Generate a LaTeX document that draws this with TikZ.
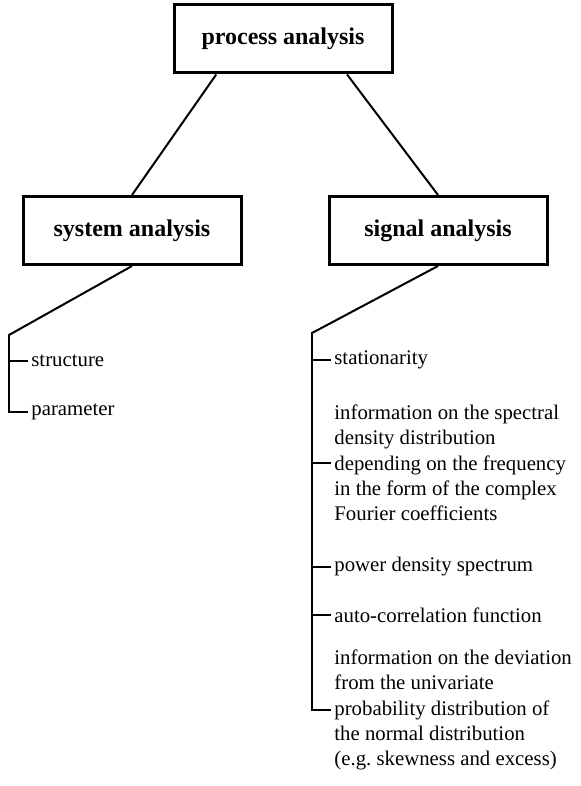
\documentclass[tikz,border=0pt]{standalone}
\usepackage{fontspec}
\setmainfont{Liberation Serif}
\usetikzlibrary{positioning}

\begin{document}
\begin{tikzpicture}[
  x=0.5pt, y=-0.5pt,
  head/.style={draw, line width=1.5pt, minimum width=109pt, minimum height=34pt,
               inner sep=0pt, font=\fontsize{12}{14}\selectfont\bfseries},
  item/.style={anchor=west, align=left, inner xsep=2pt, inner ysep=0pt,
               font=\fontsize{10.4}{12.65}\selectfont},
  link/.style={line width=1pt},
  tree/.style={line width=1pt, line cap=rect}
]
  \useasboundingbox (0,0) rectangle (581,786);

  \node[head] (proc) at (283,39) {process analysis};
  \node[head] (sys) at (132,230.5) {system analysis};
  \node[head, right=42.5pt of sys] (sig) {signal analysis};

  \draw[link] (proc.-152) -- (sys.north);
  \draw[link] (proc.-29.5) -- (sig.north);

  % system side
  \coordinate (sysroot) at (9,335);
  \node[item] (struct) at (27,361) {structure};
  \node[item] (param) at (27,412) {parameter};
  \draw[link] (sys.south) -- (sysroot);
  \draw[tree] (sysroot) -- (sysroot |- param.west) -- (param.west);
  \draw[tree] (sysroot |- struct.west) -- (struct.west);

  % signal side
  \coordinate (sigroot) at (312,333);
  \node[item] (stat) at (330,360) {stationarity};
  \node[item] (spec) at (330,463) {information on the spectral\\density distribution\\
    depending on the frequency\\in the form of the complex\\Fourier coefficients};
  \node[item] (power) at (330,567) {power density spectrum};
  \node[item] (acf) at (330,615) {auto-correlation function};
  \node[item] (dev) at (330,710) {information on the deviation\\from the univariate\\
    probability distribution of\\the normal distribution\\(e.g.\ skewness and excess)};
  \draw[link] (sig.south) -- (sigroot);
  \draw[tree] (sigroot) -- (sigroot |- dev.west) -- (dev.west);
  \foreach \n in {stat, spec, power, acf}
    \draw[tree] (sigroot |- \n.west) -- (\n.west);
\end{tikzpicture}
\end{document}
